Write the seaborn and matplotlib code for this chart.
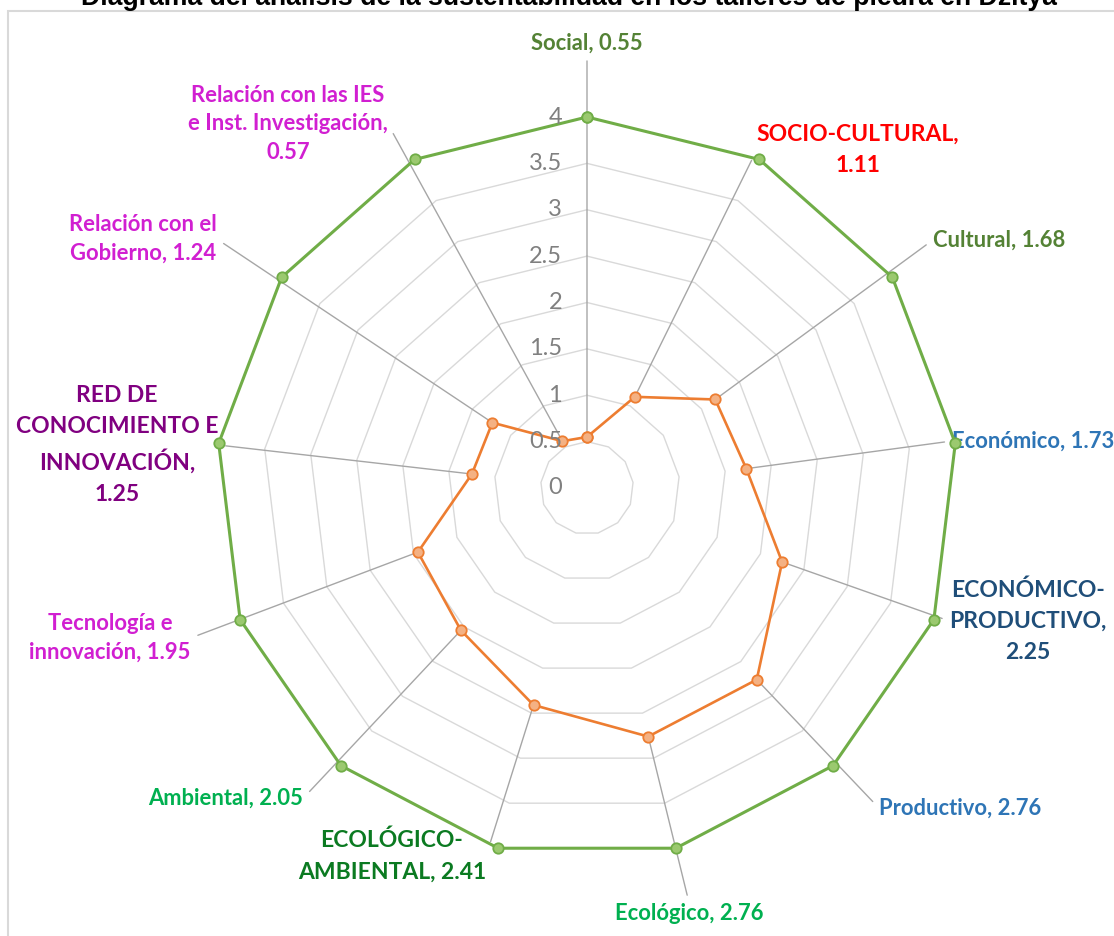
import numpy as np
import matplotlib
matplotlib.use("Agg")
import matplotlib.pyplot as plt
from matplotlib.patches import Rectangle
import seaborn as sns

# datos del radar (sentido horario desde arriba)
categorias = ["Social", "SOCIO-CULTURAL", "Cultural", "Económico",
              "ECONÓMICO-\nPRODUCTIVO", "Productivo", "Ecológico",
              "ECOLÓGICO-\nAMBIENTAL", "Ambiental", "Tecnología e\ninnovación",
              "RED DE\nCONOCIMIENTO E\nINNOVACIÓN", "Relación con el\nGobierno",
              "Relación con las IES\ne Inst. Investigación"]
valores = [0.55, 1.11, 1.68, 1.73, 2.25, 2.76, 2.76, 2.41, 2.05, 1.95, 1.25, 1.24, 0.57]
maximo = [4, 4, 4, 4, 4, 4, 4, 4, 4, 4, 4, 4, 4]
niveles = [0, 0.5, 1, 1.5, 2, 2.5, 3, 3.5, 4]
niveles_txt = ["0", "0.5", "1", "1.5", "2", "2.5", "3", "3.5", "4"]
titulo = "Diagrama del análisis de la sustentabilidad en los talleres de piedra en Dzitya"

# formato de las etiquetas
sep = [", ", ",\n", ", ", ", ", ",\n", ", ", ", ", ", ", ", ", ", ", ",\n", ", ", ",\n"]
colores_txt = ["#548235", "#ff0000", "#548235", "#2e75b6", "#1f4e79", "#2e75b6", "#00b050",
               "#0b7a21", "#00b050", "#d11fd1", "#800080", "#d11fd1", "#d11fd1"]
grandes = [False, True, False, False, True, False, False, True, False, False, True, False, False]
# posicion del texto (pixeles desde arriba-izquierda) y punto de union de la guia
pos_txt = [(587, 43), (858, 150), (999, 240), (1033, 441), (1028, 621), (960, 808),
           (689, 913), (392, 856), (226, 798), (110, 638), (117, 445), (143, 239), (288, 124)]
rel = [(0.5, 0), (0, 0.5), (0, 0.5), (0, 0.5), (0, 0.5), (0, 0.5), (0.5, 1),
       (1, 0.5), (1, 0.5), (1, 0.5), (1, 0.5), (1, 0.5), (1, 0.5)]

sns.set_theme(style="white")
plt.rcParams["font.family"] = ["Lato", "DejaVu Sans"]

W, H = 1114, 936
fig = plt.figure(figsize=(W / 100, H / 100), dpi=100)
fig.patch.set_facecolor("white")

cx, cy, R = 587, 488, 371
ax = fig.add_axes([(cx - R) / W, (H - cy - R) / H, 2 * R / W, 2 * R / H], projection="polar")
ax.set_theta_zero_location("N")
ax.set_theta_direction(-1)
ax.set_facecolor("none")

n = len(categorias)
theta = np.linspace(0, 2 * np.pi, n, endpoint=False)
theta_c = np.append(theta, theta[0])

# rejilla poligonal
for lv in niveles[1:-1]:
    ax.plot(theta_c, [lv] * (n + 1), color="#d9d9d9", lw=1, zorder=1)

sns.lineplot(x=theta_c, y=maximo + maximo[:1], ax=ax, sort=False, estimator=None,
             color="#70ad47", lw=2.2, marker="o", markersize=7.5,
             markerfacecolor="#9bc96f", markeredgecolor="#70ad47", markeredgewidth=1.3,
             zorder=4, legend=False)
sns.lineplot(x=theta_c, y=valores + valores[:1], ax=ax, sort=False, estimator=None,
             color="#ed7d31", lw=1.9, marker="o", markersize=7.5,
             markerfacecolor="#f4b183", markeredgecolor="#ed7d31", markeredgewidth=1.3,
             zorder=5, legend=False)

ax.set_ylim(0, 4)
ax.set_xticks([])
ax.set_yticks([])
ax.grid(False)
ax.spines["polar"].set_visible(False)
ax.set_xlabel("")
ax.set_ylabel("")
for ln in ax.lines:
    ln.set_clip_on(False)

# etiquetas del eje de valores
for lv, t in zip(niveles, niveles_txt):
    ax.annotate(t, xy=(0, lv), xytext=(-18, 0), textcoords="offset points",
                ha="right", va="center", color="#808080", fontsize=17, zorder=6,
                annotation_clip=False)

# etiquetas de datos con lineas guia
for i in range(n):
    txt = categorias[i] + sep[i] + f"{valores[i]:.2f}"
    px, py = pos_txt[i]
    ax.annotate(txt, xy=(theta[i], valores[i]), xytext=(px, H - py),
                textcoords="figure pixels", ha="center", va="center",
                multialignment="center", linespacing=1.6 if grandes[i] else 1.45,
                fontsize=16.5 if grandes[i] else 15.8, fontweight="bold",
                color=colores_txt[i], zorder=3, annotation_clip=False,
                arrowprops=dict(arrowstyle="-", color="#a6a6a6", lw=1,
                                shrinkA=3, shrinkB=4, relpos=rel[i]))

# marco y titulo (cortado en la parte superior)
fig.add_artist(Rectangle((8 / W, -0.1), 1.2, 1.1 - 11 / H, transform=fig.transFigure,
                         fill=False, edgecolor="#d9d9d9", lw=1.5))
fig.text(0.511, 1 - 5 / H, titulo, ha="center", va="baseline", fontsize=19.2,
         fontweight="bold", family=["Liberation Sans", "DejaVu Sans"], color="black")

fig.savefig("out.png", dpi=100)
